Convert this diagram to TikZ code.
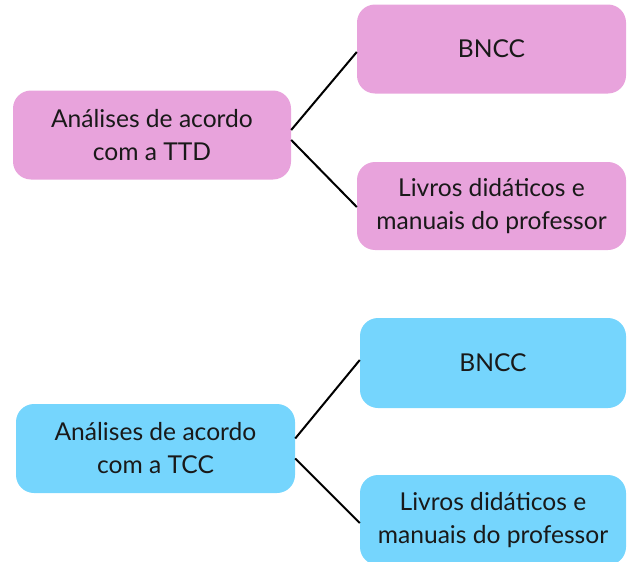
\documentclass[tikz,border=0pt]{standalone}
\usepackage{fontspec}
\setmainfont{Lato}
\definecolor{pinkbox}{RGB}{232,163,220}
\definecolor{bluebox}{RGB}{117,213,253}
\begin{document}
\begin{tikzpicture}[x=1pt,y=-1pt,
  box/.style={rounded corners=18pt, inner sep=0pt, align=center,
    font=\fontsize{24.6}{33}\selectfont, text=black!90},
  pinkb/.style={box, fill=pinkbox},
  blueb/.style={box, fill=bluebox},
  conn/.style={line width=2pt, black}]
\useasboundingbox (0,0) rectangle (627,562);
\clip (0,0) rectangle (627,562);
\node[pinkb, minimum width=278pt, minimum height=89pt] (ttd) at (152,135) {Análises de acordo\\com a TTD};
\node[pinkb, minimum width=269pt, minimum height=89pt] (bncc1) at (491.5,49) {BNCC};
\node[pinkb, minimum width=269pt, minimum height=88pt] (liv1) at (491.5,206) {Livros didáticos e\\manuais do professor};
\node[blueb, minimum width=279pt, minimum height=89pt] (tcc) at (155.5,448.5) {Análises de acordo\\com a TCC};
\node[blueb, minimum width=266pt, minimum height=90pt] (bncc2) at (493,363) {BNCC};
\node[blueb, minimum width=266pt, minimum height=90pt] (liv2) at (493,520) {Livros didáticos e\\manuais do professor};
\draw[conn] ([yshift=5pt]ttd.east) -- ([yshift=-3pt]bncc1.west);
\draw[conn] ([yshift=-5pt]ttd.east) -- ([yshift=-1pt]liv1.west);
\draw[conn] ([yshift=10pt]tcc.east) -- ([yshift=3pt]bncc2.west);
\draw[conn] ([yshift=-10pt]tcc.east) -- ([yshift=-3pt]liv2.west);
\end{tikzpicture}
\end{document}
